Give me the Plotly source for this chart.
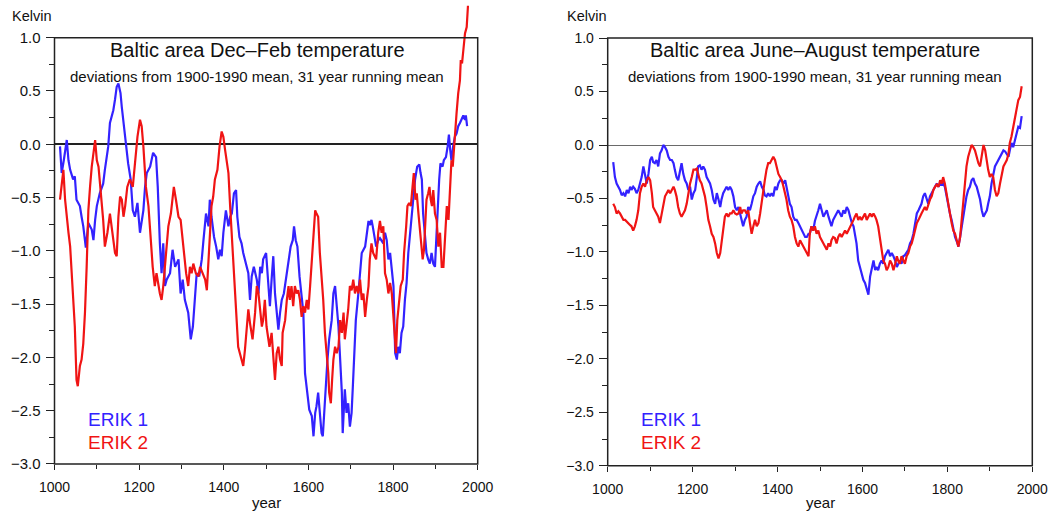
import plotly.graph_objects as go

# 31-year running means of Baltic-area temperature deviations (K, vs 1900-1990 mean)
# Each list holds (year, deviation) pairs.

DJF_ERIK1 = [
    (1013, -0.02), (1017, -0.27), (1022, -0.15), (1029, 0.04), (1033, -0.15), (1037, -0.24),
    (1044, -0.33), (1048, -0.30), (1052, -0.52), (1060, -0.58), (1064, -0.68), (1068, -0.77),
    (1074, -0.97), (1080, -0.74), (1088, -0.80), (1092, -0.90), (1096, -0.71), (1100, -0.58),
    (1107, -0.46), (1115, -0.37), (1119, -0.24), (1127, -0.02), (1131, 0.20), (1139, 0.32),
    (1143, 0.42), (1147, 0.54), (1151, 0.57), (1156, 0.48), (1159, 0.35), (1163, 0.20),
    (1169, -0.05), (1174, -0.18), (1180, -0.33), (1185, -0.62), (1190, -0.68), (1196, -0.55),
    (1202, -0.83), (1206, -0.74), (1210, -0.62), (1214, -0.40), (1218, -0.27), (1226, -0.21),
    (1233, -0.08), (1240, -0.12), (1244, -0.40), (1249, -0.93), (1253, -1.21), (1257, -0.93),
    (1261, -1.33), (1265, -1.27), (1273, -1.21), (1279, -0.99), (1285, -1.15), (1293, -1.08),
    (1298, -1.40), (1303, -1.27), (1308, -1.46), (1316, -1.58), (1322, -1.83), (1327, -1.71),
    (1332, -1.40), (1336, -1.21), (1342, -1.24), (1348, -1.08), (1352, -0.90), (1358, -0.65),
    (1364, -0.77), (1367, -0.52), (1371, -0.68), (1377, -0.87), (1382, -0.96), (1387, -1.08),
    (1391, -0.99), (1395, -1.05), (1399, -0.83), (1405, -0.62), (1411, -0.77), (1415, -0.68),
    (1419, -0.65), (1424, -0.46), (1429, -0.43), (1432, -0.68), (1437, -0.87), (1442, -0.93),
    (1446, -1.02), (1453, -1.15), (1458, -1.21), (1462, -1.46), (1466, -1.24), (1471, -1.15),
    (1478, -1.27), (1482, -1.40), (1486, -1.15), (1490, -1.21), (1493, -1.08), (1500, -1.02),
    (1505, -1.33), (1509, -1.52), (1513, -1.27), (1517, -1.05), (1521, -1.40), (1525, -1.58),
    (1529, -1.74), (1533, -1.58), (1537, -1.46), (1542, -1.40), (1547, -1.27), (1553, -1.08),
    (1558, -0.96), (1563, -0.90), (1566, -0.77), (1570, -0.90), (1574, -0.96), (1579, -1.24),
    (1584, -1.40), (1588, -1.58), (1592, -2.15), (1597, -2.33), (1602, -2.49), (1608, -2.55),
    (1612, -2.74), (1616, -2.52), (1619, -2.46), (1623, -2.33), (1627, -2.52), (1631, -2.71),
    (1634, -2.74), (1637, -2.52), (1642, -2.27), (1645, -2.02), (1649, -1.83), (1655, -1.65),
    (1659, -1.40), (1663, -1.33), (1667, -1.52), (1671, -1.71), (1675, -2.02), (1679, -2.33),
    (1681, -2.71), (1684, -2.52), (1686, -2.30), (1690, -2.52), (1694, -2.43), (1698, -2.65),
    (1702, -2.52), (1705, -2.27), (1708, -2.02), (1712, -1.65), (1718, -1.40), (1722, -1.21),
    (1726, -1.02), (1734, -0.96), (1738, -0.83), (1742, -0.72), (1745, -0.76), (1749, -0.71),
    (1752, -0.77), (1760, -0.96), (1765, -0.90), (1769, -0.88), (1777, -0.93), (1781, -0.83),
    (1785, -0.90), (1789, -1.08), (1793, -1.02), (1797, -1.15), (1801, -1.33), (1805, -1.96),
    (1809, -2.02), (1812, -1.90), (1816, -1.96), (1820, -1.77), (1824, -1.71), (1828, -1.46),
    (1832, -1.30), (1836, -1.02), (1840, -0.83), (1844, -0.65), (1848, -0.52), (1852, -0.33),
    (1857, -0.21), (1862, -0.19), (1865, -0.27), (1868, -0.33), (1871, -0.65), (1875, -0.83),
    (1879, -1.02), (1883, -1.08), (1887, -1.12), (1891, -1.02), (1895, -1.12), (1899, -1.15),
    (1903, -0.80), (1907, -0.58), (1909, -0.33), (1912, -0.18), (1917, -0.21), (1920, -0.15),
    (1925, -0.12), (1929, -0.02), (1932, 0.09), (1935, -0.05), (1938, -0.15), (1942, -0.02),
    (1946, 0.07), (1950, 0.10), (1954, 0.17), (1958, 0.20), (1962, 0.23), (1966, 0.27),
    (1970, 0.23), (1972, 0.27), (1975, 0.17),
]

DJF_ERIK2 = [
    (1013, -0.52), (1017, -0.40), (1021, -0.24), (1025, -0.52), (1029, -0.71), (1033, -0.83),
    (1037, -0.96), (1041, -1.21), (1044, -1.40), (1048, -1.71), (1052, -2.21), (1055, -2.27),
    (1060, -2.08), (1064, -2.02), (1068, -1.87), (1072, -1.58), (1076, -1.15), (1080, -0.62),
    (1084, -0.40), (1088, -0.21), (1096, 0.04), (1100, -0.15), (1104, -0.21), (1107, -0.33),
    (1111, -0.55), (1115, -0.71), (1119, -0.96), (1125, -0.83), (1131, -0.65), (1135, -0.77),
    (1139, -0.90), (1143, -1.02), (1147, -1.05), (1151, -0.68), (1155, -0.49), (1159, -0.52),
    (1163, -0.68), (1167, -0.58), (1172, -0.40), (1178, -0.33), (1185, -0.40), (1190, -0.15),
    (1196, 0.07), (1202, 0.23), (1206, 0.17), (1210, -0.02), (1216, -0.40), (1222, -0.58),
    (1226, -0.83), (1232, -1.15), (1237, -1.33), (1241, -1.21), (1249, -1.40), (1253, -1.46),
    (1257, -1.33), (1261, -1.15), (1265, -0.96), (1269, -0.77), (1275, -0.65), (1279, -0.52),
    (1282, -0.40), (1287, -0.52), (1293, -0.68), (1298, -0.71), (1303, -0.90), (1306, -1.08),
    (1311, -1.21), (1316, -1.33), (1320, -1.15), (1324, -1.21), (1328, -1.12), (1334, -1.21),
    (1340, -1.24), (1344, -1.15), (1350, -1.21), (1356, -1.27), (1360, -1.37), (1364, -1.08),
    (1367, -0.77), (1371, -0.58), (1375, -0.49), (1379, -0.33), (1385, -0.24), (1390, -0.02),
    (1395, 0.12), (1399, 0.07), (1403, -0.05), (1407, -0.15), (1411, -0.27), (1415, -0.58),
    (1419, -0.87), (1423, -1.15), (1429, -1.52), (1434, -1.90), (1438, -1.96), (1442, -2.02),
    (1446, -2.08), (1450, -1.93), (1454, -1.71), (1458, -1.55), (1462, -1.68), (1468, -1.83),
    (1474, -1.58), (1478, -1.33), (1482, -1.40), (1486, -1.58), (1490, -1.71), (1493, -1.65),
    (1497, -1.46), (1501, -1.71), (1508, -1.90), (1513, -1.77), (1517, -2.02), (1521, -2.21),
    (1525, -1.96), (1529, -1.90), (1533, -2.02), (1537, -2.08), (1539, -1.77), (1545, -1.65),
    (1549, -1.46), (1553, -1.33), (1556, -1.46), (1560, -1.33), (1564, -1.52), (1568, -1.33),
    (1572, -1.40), (1576, -1.37), (1580, -1.46), (1584, -1.62), (1588, -1.52), (1592, -1.58),
    (1596, -1.46), (1600, -1.55), (1604, -1.33), (1608, -1.08), (1612, -0.77), (1616, -0.62),
    (1619, -0.65), (1623, -0.68), (1627, -1.02), (1631, -1.21), (1635, -1.46), (1639, -1.77),
    (1643, -1.96), (1647, -2.15), (1649, -2.33), (1653, -2.43), (1656, -2.21), (1659, -2.02),
    (1663, -1.90), (1667, -1.96), (1671, -1.90), (1675, -1.65), (1679, -1.77), (1683, -1.58),
    (1686, -1.83), (1690, -1.71), (1694, -1.55), (1698, -1.33), (1702, -1.37), (1706, -1.27),
    (1710, -1.40), (1714, -1.33), (1718, -1.40), (1722, -1.27), (1726, -1.46), (1730, -1.40),
    (1734, -1.62), (1738, -1.46), (1742, -1.33), (1745, -1.08), (1749, -0.93), (1753, -1.02),
    (1760, -1.08), (1765, -0.83), (1769, -0.72), (1773, -0.83), (1777, -0.77), (1781, -1.21),
    (1785, -1.27), (1789, -1.40), (1793, -1.30), (1797, -1.40), (1801, -1.65), (1805, -1.83),
    (1807, -1.96), (1810, -1.65), (1815, -1.40), (1818, -1.33), (1823, -1.27), (1826, -1.02),
    (1831, -0.77), (1834, -0.58), (1838, -0.55), (1842, -0.58), (1846, -0.40), (1849, -0.27),
    (1853, -0.52), (1856, -0.46), (1860, -0.65), (1864, -0.83), (1868, -0.96), (1870, -1.08),
    (1873, -0.99), (1876, -0.77), (1879, -0.52), (1883, -0.46), (1886, -0.40), (1889, -0.52),
    (1892, -0.58), (1895, -0.43), (1899, -0.65), (1903, -0.71), (1907, -0.96), (1911, -0.83),
    (1915, -1.15), (1919, -1.15), (1923, -0.83), (1927, -0.58), (1931, -0.71), (1933, -0.58),
    (1936, -0.33), (1938, -0.15), (1941, -0.21), (1944, -0.02), (1947, 0.17), (1950, 0.29),
    (1954, 0.48), (1958, 0.60), (1960, 0.79), (1963, 0.76), (1966, 0.88), (1970, 1.04),
    (1974, 1.10), (1977, 1.30),
]

JJA_ERIK1 = [
    (1013, -0.16), (1017, -0.30), (1021, -0.36), (1025, -0.39), (1029, -0.42), (1033, -0.47),
    (1037, -0.45), (1041, -0.48), (1045, -0.42), (1049, -0.45), (1053, -0.39), (1056, -0.42),
    (1060, -0.39), (1064, -0.41), (1068, -0.45), (1072, -0.42), (1076, -0.36), (1080, -0.30),
    (1084, -0.20), (1088, -0.27), (1092, -0.36), (1096, -0.27), (1100, -0.14), (1104, -0.11),
    (1107, -0.16), (1111, -0.17), (1115, -0.14), (1119, -0.20), (1123, -0.08), (1127, -0.05),
    (1131, 0.00), (1135, -0.02), (1139, -0.05), (1143, -0.11), (1147, -0.14), (1151, -0.14),
    (1155, -0.17), (1158, -0.23), (1162, -0.30), (1166, -0.33), (1170, -0.23), (1174, -0.17),
    (1178, -0.27), (1182, -0.33), (1186, -0.36), (1190, -0.42), (1194, -0.39), (1198, -0.51),
    (1202, -0.45), (1206, -0.42), (1210, -0.30), (1213, -0.20), (1217, -0.19), (1221, -0.23),
    (1225, -0.20), (1229, -0.23), (1233, -0.30), (1237, -0.33), (1241, -0.36), (1245, -0.42),
    (1249, -0.51), (1253, -0.55), (1257, -0.45), (1261, -0.51), (1265, -0.58), (1268, -0.51),
    (1272, -0.45), (1276, -0.42), (1280, -0.39), (1284, -0.42), (1288, -0.39), (1292, -0.42),
    (1296, -0.48), (1300, -0.58), (1304, -0.61), (1308, -0.58), (1312, -0.64), (1315, -0.70),
    (1319, -0.76), (1323, -0.70), (1327, -0.67), (1331, -0.58), (1335, -0.61), (1339, -0.55),
    (1343, -0.48), (1347, -0.45), (1351, -0.39), (1355, -0.36), (1359, -0.34), (1363, -0.39),
    (1367, -0.42), (1370, -0.47), (1374, -0.48), (1378, -0.45), (1382, -0.48), (1386, -0.45),
    (1390, -0.48), (1394, -0.39), (1398, -0.42), (1402, -0.36), (1406, -0.33), (1410, -0.33),
    (1414, -0.36), (1418, -0.33), (1421, -0.39), (1425, -0.48), (1429, -0.55), (1433, -0.58),
    (1437, -0.67), (1441, -0.70), (1445, -0.70), (1449, -0.73), (1453, -0.76), (1457, -0.80),
    (1461, -0.83), (1465, -0.86), (1469, -0.86), (1473, -0.83), (1476, -0.83), (1480, -0.76),
    (1484, -0.80), (1488, -0.71), (1496, -0.61), (1500, -0.55), (1504, -0.61), (1508, -0.67),
    (1512, -0.64), (1516, -0.61), (1520, -0.67), (1524, -0.73), (1527, -0.76), (1531, -0.70),
    (1535, -0.67), (1539, -0.64), (1543, -0.61), (1547, -0.64), (1551, -0.67), (1555, -0.61),
    (1559, -0.64), (1563, -0.58), (1567, -0.61), (1571, -0.67), (1575, -0.73), (1579, -0.76),
    (1582, -0.83), (1586, -0.92), (1590, -1.08), (1594, -1.14), (1598, -1.20), (1602, -1.26),
    (1606, -1.29), (1610, -1.36), (1614, -1.40), (1618, -1.23), (1622, -1.14), (1626, -1.08),
    (1630, -1.17), (1633, -1.14), (1637, -1.17), (1641, -1.11), (1645, -1.08), (1649, -1.11),
    (1653, -1.04), (1657, -1.01), (1661, -0.98), (1665, -1.04), (1669, -1.01), (1673, -1.04),
    (1677, -1.08), (1681, -1.14), (1684, -1.11), (1688, -1.08), (1692, -1.11), (1696, -1.04),
    (1700, -1.03), (1704, -1.00), (1708, -0.98), (1712, -0.92), (1716, -0.89), (1720, -0.83),
    (1724, -0.73), (1728, -0.64), (1732, -0.61), (1735, -0.58), (1739, -0.55), (1743, -0.48),
    (1747, -0.45), (1751, -0.50), (1755, -0.55), (1759, -0.48), (1763, -0.45), (1767, -0.42),
    (1771, -0.39), (1775, -0.36), (1779, -0.39), (1783, -0.36), (1787, -0.37), (1790, -0.36),
    (1794, -0.39), (1798, -0.48), (1802, -0.55), (1806, -0.64), (1810, -0.70), (1814, -0.80),
    (1818, -0.86), (1822, -0.90), (1826, -0.95), (1830, -0.86), (1834, -0.76), (1838, -0.64),
    (1841, -0.55), (1845, -0.48), (1849, -0.42), (1853, -0.39), (1857, -0.33), (1861, -0.31),
    (1865, -0.36), (1869, -0.39), (1873, -0.45), (1877, -0.51), (1881, -0.61), (1885, -0.67),
    (1889, -0.64), (1893, -0.61), (1896, -0.55), (1900, -0.48), (1904, -0.36), (1908, -0.27),
    (1912, -0.20), (1916, -0.17), (1920, -0.14), (1924, -0.11), (1928, -0.08), (1932, -0.05),
    (1936, -0.06), (1940, -0.08), (1944, -0.11), (1947, -0.05), (1951, 0.02), (1955, -0.02),
    (1959, 0.05), (1963, 0.11), (1967, 0.17), (1971, 0.16), (1975, 0.27),
]

JJA_ERIK2 = [
    (1013, -0.55), (1017, -0.58), (1021, -0.64), (1025, -0.62), (1029, -0.64), (1033, -0.67),
    (1037, -0.70), (1041, -0.70), (1045, -0.72), (1049, -0.73), (1053, -0.75), (1056, -0.76),
    (1060, -0.80), (1064, -0.76), (1068, -0.70), (1072, -0.61), (1076, -0.45), (1080, -0.39),
    (1084, -0.36), (1088, -0.39), (1092, -0.33), (1096, -0.30), (1100, -0.33), (1104, -0.45),
    (1107, -0.58), (1111, -0.61), (1115, -0.64), (1119, -0.67), (1123, -0.73), (1127, -0.64),
    (1131, -0.55), (1135, -0.48), (1139, -0.45), (1143, -0.42), (1147, -0.45), (1151, -0.42),
    (1155, -0.39), (1158, -0.42), (1162, -0.48), (1166, -0.58), (1170, -0.64), (1174, -0.67),
    (1178, -0.64), (1182, -0.61), (1186, -0.55), (1190, -0.45), (1194, -0.36), (1198, -0.30),
    (1202, -0.23), (1206, -0.23), (1210, -0.22), (1213, -0.27), (1217, -0.33), (1221, -0.36),
    (1225, -0.42), (1229, -0.48), (1233, -0.58), (1237, -0.70), (1241, -0.76), (1245, -0.83),
    (1249, -0.86), (1253, -0.92), (1257, -1.01), (1261, -1.06), (1265, -1.01), (1268, -0.92),
    (1272, -0.80), (1276, -0.67), (1280, -0.64), (1284, -0.67), (1288, -0.64), (1292, -0.64),
    (1296, -0.61), (1300, -0.64), (1304, -0.65), (1308, -0.64), (1312, -0.58), (1315, -0.64),
    (1319, -0.61), (1323, -0.61), (1327, -0.64), (1331, -0.61), (1335, -0.73), (1339, -0.83),
    (1343, -0.76), (1347, -0.70), (1351, -0.76), (1355, -0.73), (1359, -0.64), (1363, -0.51),
    (1367, -0.42), (1370, -0.33), (1374, -0.23), (1378, -0.17), (1382, -0.17), (1386, -0.14),
    (1390, -0.11), (1394, -0.14), (1398, -0.20), (1402, -0.27), (1406, -0.30), (1410, -0.33),
    (1414, -0.39), (1418, -0.45), (1421, -0.51), (1425, -0.61), (1429, -0.67), (1433, -0.70),
    (1437, -0.76), (1441, -0.86), (1445, -0.92), (1449, -0.95), (1453, -0.89), (1457, -0.92),
    (1461, -0.95), (1465, -0.98), (1469, -1.01), (1473, -1.04), (1476, -0.83), (1480, -0.76),
    (1484, -0.80), (1488, -0.76), (1492, -0.83), (1496, -0.80), (1500, -0.86), (1504, -0.89),
    (1508, -0.92), (1512, -0.95), (1516, -0.98), (1520, -0.92), (1524, -0.95), (1527, -0.89),
    (1531, -0.86), (1535, -0.87), (1539, -0.92), (1543, -0.86), (1547, -0.83), (1551, -0.86),
    (1555, -0.83), (1559, -0.80), (1563, -0.83), (1567, -0.80), (1571, -0.76), (1575, -0.73),
    (1579, -0.70), (1582, -0.67), (1586, -0.64), (1590, -0.70), (1594, -0.67), (1598, -0.70),
    (1602, -0.67), (1606, -0.64), (1610, -0.70), (1614, -0.67), (1618, -0.64), (1622, -0.67),
    (1626, -0.64), (1630, -0.67), (1633, -0.70), (1637, -0.76), (1641, -0.86), (1645, -0.98),
    (1649, -1.08), (1653, -1.11), (1657, -1.17), (1661, -1.14), (1665, -1.08), (1669, -1.11),
    (1673, -1.17), (1677, -1.11), (1681, -1.04), (1684, -1.08), (1688, -1.11), (1692, -1.04),
    (1696, -1.08), (1700, -1.11), (1704, -1.04), (1708, -1.01), (1712, -0.95), (1716, -0.92),
    (1720, -0.86), (1724, -0.80), (1728, -0.73), (1732, -0.70), (1735, -0.67), (1739, -0.64),
    (1743, -0.61), (1747, -0.58), (1751, -0.61), (1755, -0.55), (1759, -0.51), (1763, -0.48),
    (1767, -0.42), (1771, -0.39), (1775, -0.37), (1779, -0.39), (1783, -0.33), (1787, -0.36),
    (1790, -0.30), (1794, -0.36), (1798, -0.45), (1802, -0.55), (1806, -0.67), (1810, -0.73),
    (1814, -0.80), (1818, -0.83), (1822, -0.89), (1826, -0.95), (1830, -0.86), (1834, -0.67),
    (1838, -0.48), (1841, -0.33), (1845, -0.20), (1849, -0.11), (1853, -0.05), (1857, 0.00),
    (1861, -0.02), (1865, -0.05), (1869, -0.11), (1873, -0.17), (1877, -0.20), (1881, -0.11),
    (1885, 0.00), (1889, -0.05), (1893, -0.17), (1896, -0.23), (1900, -0.30), (1904, -0.27),
    (1908, -0.30), (1912, -0.42), (1916, -0.48), (1920, -0.45), (1924, -0.36), (1928, -0.27),
    (1932, -0.20), (1936, -0.17), (1940, -0.14), (1944, -0.08), (1947, 0.02), (1951, 0.08),
    (1955, 0.17), (1959, 0.23), (1963, 0.33), (1967, 0.42), (1971, 0.45), (1975, 0.55),
]

PANEL_TITLES = ["Baltic area Dec\u2013Feb temperature", "Baltic area June\u2013August temperature"]
SUBTITLE = "deviations from 1900-1990 mean, 31 year running mean"
SERIES_NAMES = ["ERIK 1", "ERIK 2"]
Y_UNIT = "Kelvin"
X_TITLE = "year"
Y_TICKS = [-3.0, -2.5, -2.0, -1.5, -1.0, -0.5, 0.0, 0.5, 1.0]
Y_MINOR = [-2.75, -2.25, -1.75, -1.25, -0.75, -0.25, 0.25, 0.75]
X_TICKS = [1000, 1200, 1400, 1600, 1800, 2000]
X_MINOR = [1100, 1300, 1500, 1700, 1900]

BLUE = "#3322ff"
RED = "#f01414"
INK = "#222222"
FONT = "Liberation Sans, Arial, Helvetica, sans-serif"
W, H = 1054, 512


def fx(px):
    return px / W


def fy(px):
    return 1 - px / H


# panel geometry in pixels: (left, right, y of 1.0, y of -3.0)
panels = [(54.5, 477.7, 37.7, 464.0), (607.7, 1032.3, 38.1, 465.8)]
Y_TOP = 1.32  # room above the frame for values beyond 1.0

fig = go.Figure()
data_sets = [(DJF_ERIK1, DJF_ERIK2), (JJA_ERIK1, JJA_ERIK2)]
for i, (e1, e2) in enumerate(data_sets):
    sfx = "" if i == 0 else "2"
    for series, color in ((e1, BLUE), (e2, RED)):
        yrs, vals = zip(*series)
        fig.add_trace(go.Scatter(
            x=list(yrs), y=list(vals), mode="lines",
            line=dict(color=color, width=2.2),
            xaxis="x" + sfx, yaxis="y" + sfx, showlegend=False, hoverinfo="skip",
        ))

layout = dict(
    template="none",
    width=W, height=H, margin=dict(l=0, r=0, t=0, b=0, autoexpand=False),
    paper_bgcolor="white", plot_bgcolor="white",
    font=dict(family=FONT, color="#111111"),
    showlegend=False, shapes=[], annotations=[],
)

for i, (left, right, y1, ym3) in enumerate(panels):
    sfx = "" if i == 0 else "2"
    unit = (ym3 - y1) / 4.0
    top_px = y1 - (Y_TOP - 1.0) * unit
    layout["xaxis" + sfx] = dict(
        domain=[fx(left), fx(right)], range=[1000, 2000], automargin=False,
        anchor="y" + sfx, tickmode="array", tickvals=X_TICKS,
        ticks="outside", ticklen=5, tickwidth=1.3, tickcolor=INK,
        minor=dict(tickmode="array", tickvals=X_MINOR, ticks="outside",
                   ticklen=4, tickwidth=1.3, tickcolor=INK, showgrid=False),
        showgrid=False, zeroline=False, showline=False,
        tickfont=dict(size=14, family=FONT, color="#111111"),
        ticklabelstandoff=5, fixedrange=True,
    )
    layout["yaxis" + sfx] = dict(
        domain=[fy(ym3), fy(top_px)], range=[-3.0, Y_TOP], automargin=False,
        anchor="x" + sfx, tickmode="array", tickvals=Y_TICKS, tickformat=".1f",
        ticks="outside", ticklen=8, tickwidth=1.3, tickcolor=INK,
        minor=dict(tickmode="array", tickvals=Y_MINOR, ticks="outside",
                   ticklen=5, tickwidth=1.3, tickcolor=INK, showgrid=False),
        showgrid=False, showline=False,
        zeroline=True, zerolinecolor=INK if i == 0 else "#6a6a6a",
        zerolinewidth=1.5 if i == 0 else 1.2,
        tickfont=dict(size=15 if i == 0 else 14, family=FONT, color="#111111"),
        ticklabelstandoff=2, fixedrange=True,
    )
    # plot frame spanning -3 .. 1 (paper coordinates so the edges are not clipped)
    layout["shapes"].append(dict(
        type="rect", xref="paper", yref="paper",
        x0=fx(left), x1=fx(right), y0=fy(ym3), y1=fy(y1),
        line=dict(color=INK, width=1.5), fillcolor="rgba(0,0,0,0)", layer="above",
    ))
    cx = (left + right) / 2
    tcx = cx - 9 if i == 0 else cx - 5
    layout["annotations"] += [
        dict(text=PANEL_TITLES[i], x=fx(tcx), y=fy(50), xref="paper", yref="paper",
             showarrow=False, xanchor="center", yanchor="middle",
             font=dict(size=20, family=FONT, color="#111111")),
        dict(text=SUBTITLE, x=fx(tcx), y=fy(76.5), xref="paper", yref="paper",
             showarrow=False, xanchor="center", yanchor="middle",
             font=dict(size=15, family=FONT, color="#111111")),
        dict(text=Y_UNIT, x=fx(left - 23 if i == 0 else left - 21), y=fy(16),
             xref="paper", yref="paper", showarrow=False,
             xanchor="center", yanchor="middle",
             font=dict(size=14.5, family=FONT, color="#111111")),
        dict(text=X_TITLE, x=fx(cx), y=fy(502), xref="paper", yref="paper",
             showarrow=False, xanchor="center", yanchor="middle",
             font=dict(size=15, family=FONT, color="#111111")),
        dict(text=SERIES_NAMES[0], x=fx(left + 31), y=fy(419), xref="paper", yref="paper",
             showarrow=False, xanchor="left", yanchor="middle",
             font=dict(size=19, family=FONT, color=BLUE)),
        dict(text=SERIES_NAMES[1], x=fx(left + 31), y=fy(442), xref="paper", yref="paper",
             showarrow=False, xanchor="left", yanchor="middle",
             font=dict(size=19, family=FONT, color=RED)),
    ]

fig.update_layout(**layout)
fig.write_html("out.html")
